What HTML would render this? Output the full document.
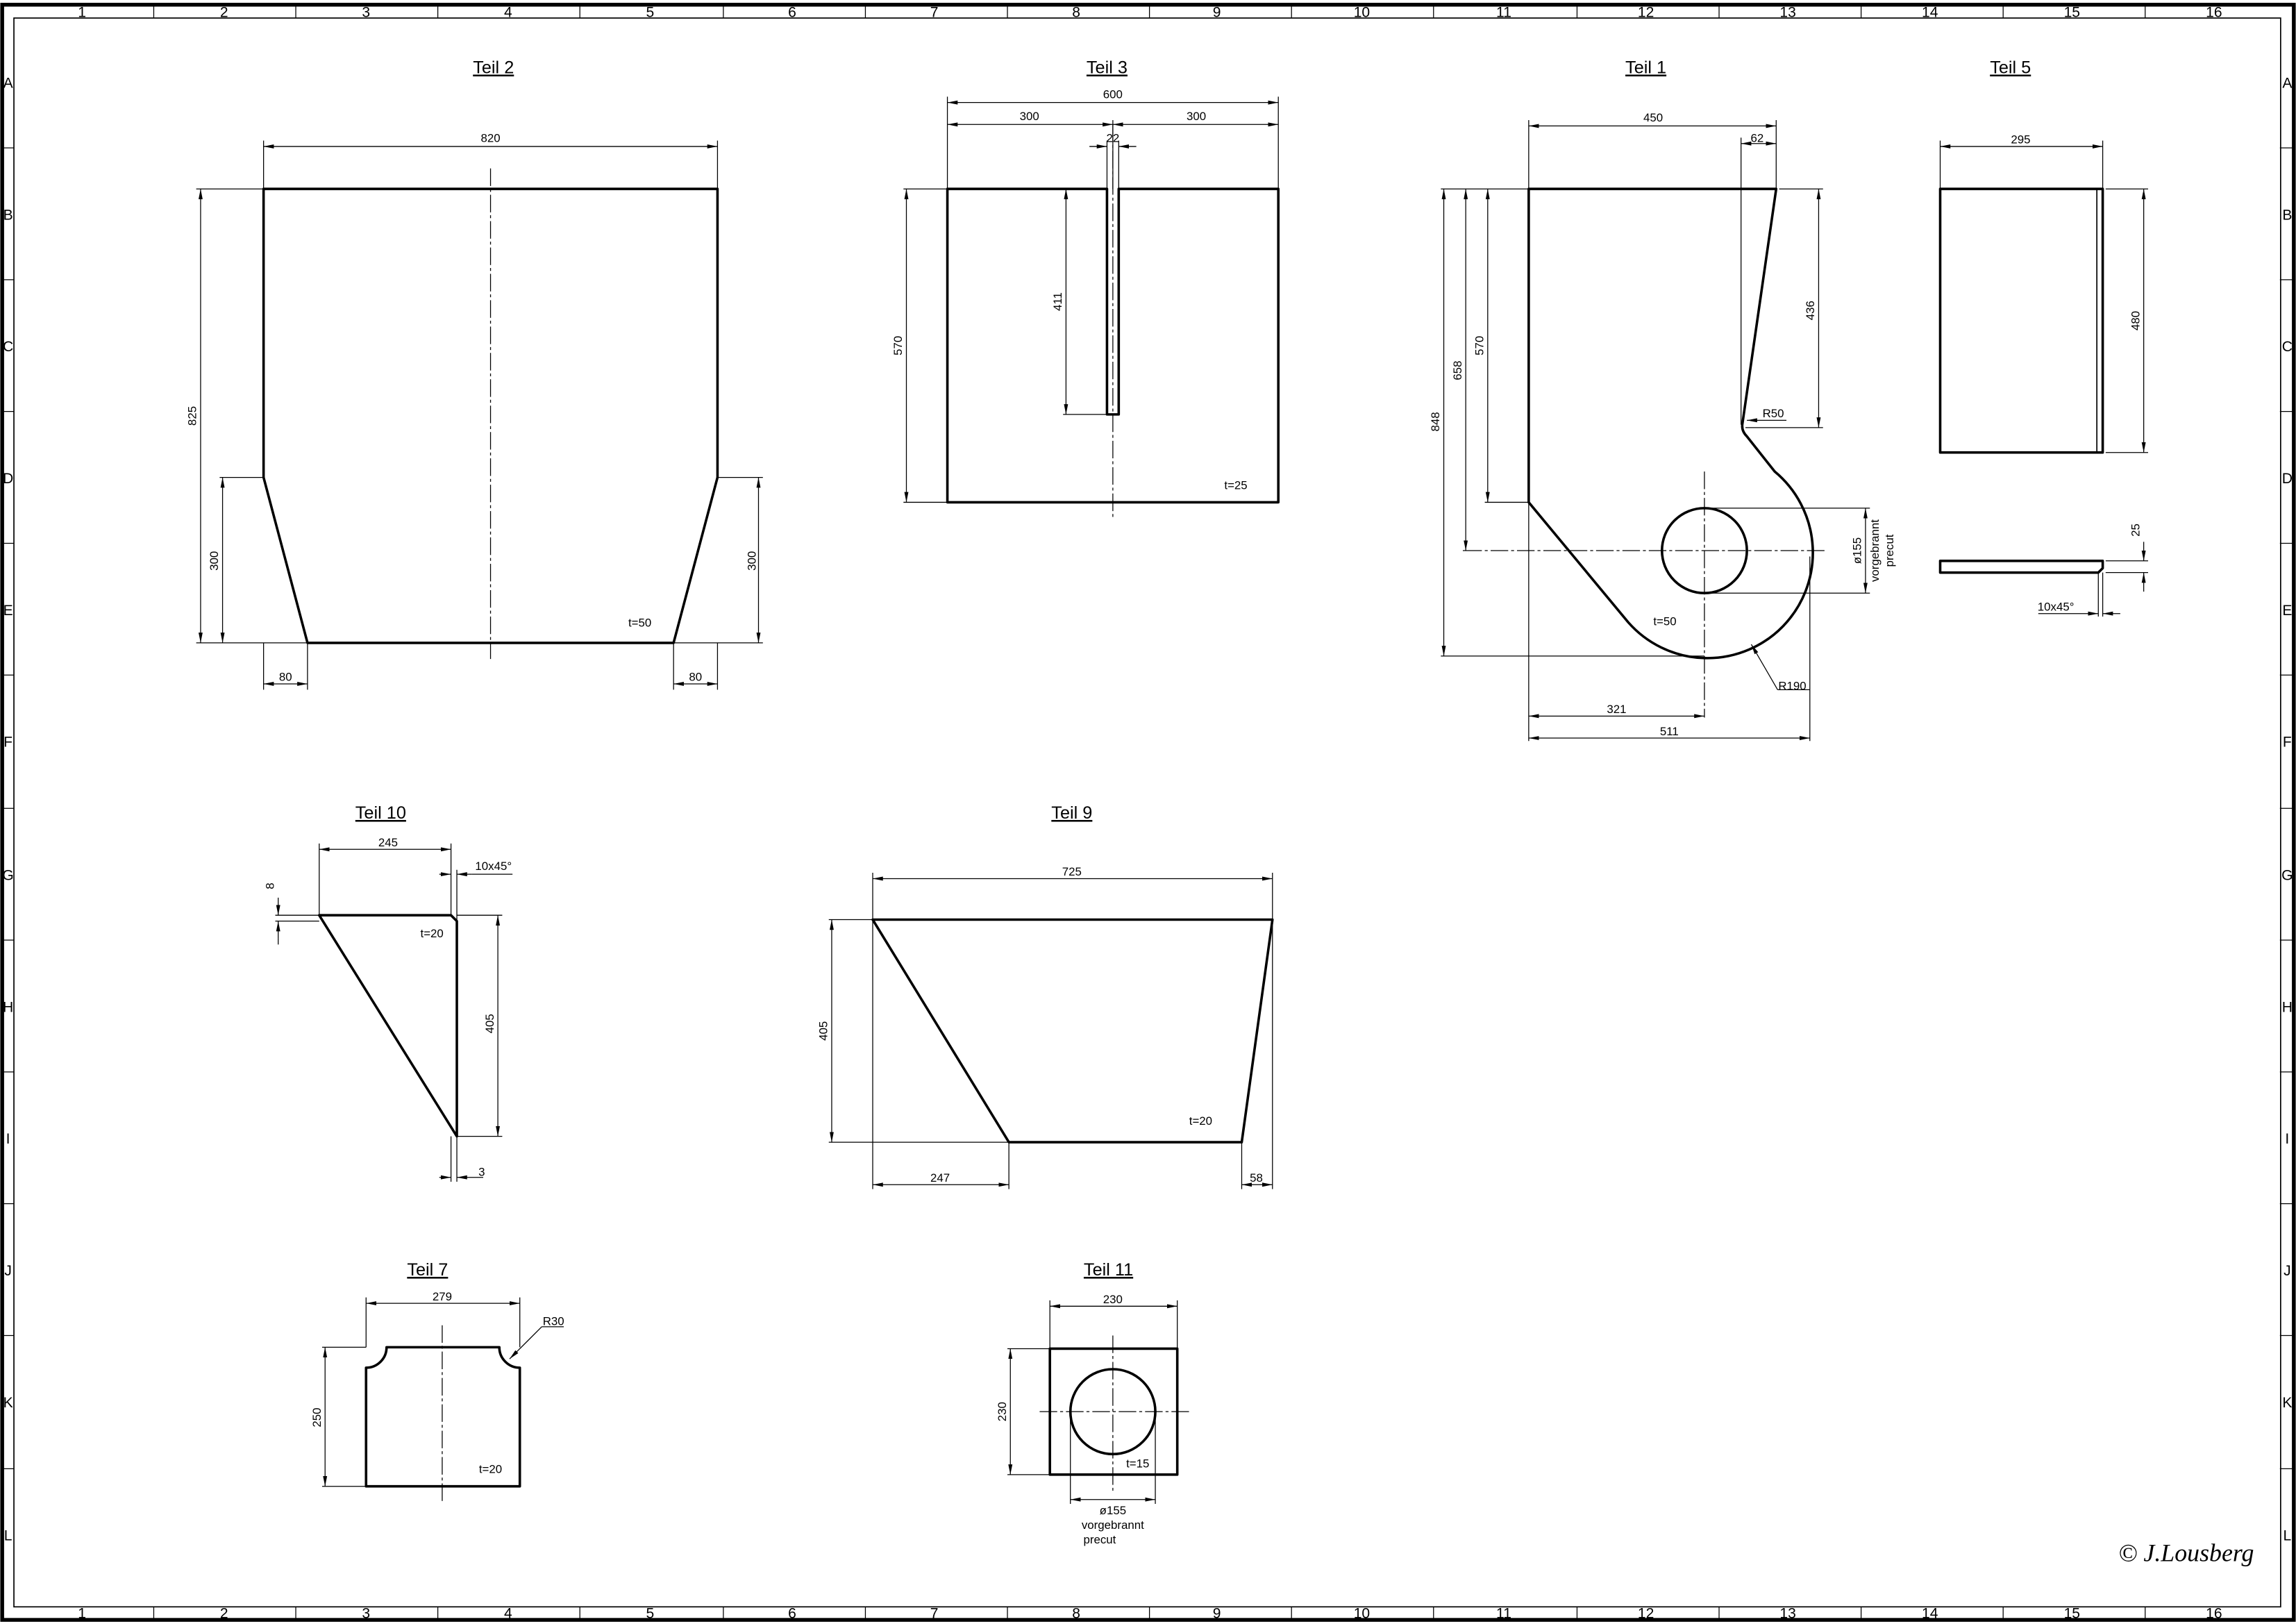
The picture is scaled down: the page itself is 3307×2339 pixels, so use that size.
<!DOCTYPE html>
<html><head><meta charset="utf-8"><style>
html,body{margin:0;padding:0;background:#fff}
svg{display:block}
text{font-family:"Liberation Sans",sans-serif;fill:#000}
.d{font-size:8px;text-anchor:middle}
.t{font-size:12px;text-anchor:middle;text-decoration:underline}
.f{font-size:10px;text-anchor:middle}
</style></head><body>
<svg width="3307" height="2339" viewBox="0 0 1568 1109" xmlns="http://www.w3.org/2000/svg">
<defs>
<marker id="a" markerUnits="userSpaceOnUse" markerWidth="8" markerHeight="4" refX="7" refY="2" orient="auto-start-reverse" viewBox="0 0 8 4"><path d="M0,0.6 L7,2 L0,3.4 Z" fill="#000"/></marker>
</defs>
<g fill="none" stroke="#000">
<!-- frame -->
<rect x="1.5" y="3.2" width="1565" height="1103" stroke-width="2.6"/>
<rect x="9.5" y="12.3" width="1548" height="1085" stroke-width="0.8"/>
</g>
<g stroke="#000" stroke-width="0.6">
<path d="M105,3V12M202,3V12M299,3V12M396,3V12M494,3V12M591,3V12M688,3V12M785,3V12M882,3V12M979,3V12M1077,3V12M1174,3V12M1271,3V12M1368,3V12M1465,3V12
M105,1097V1106M202,1097V1106M299,1097V1106M396,1097V1106M494,1097V1106M591,1097V1106M688,1097V1106M785,1097V1106M882,1097V1106M979,1097V1106M1077,1097V1106M1174,1097V1106M1271,1097V1106M1368,1097V1106M1465,1097V1106
M2,101H9.5M2,191H9.5M2,281H9.5M2,371H9.5M2,461H9.5M2,552H9.5M2,642H9.5M2,732H9.5M2,822H9.5M2,912H9.5M2,1003H9.5
M1557,101H1566M1557,191H1566M1557,281H1566M1557,371H1566M1557,461H1566M1557,552H1566M1557,642H1566M1557,732H1566M1557,822H1566M1557,912H1566M1557,1003H1566"/>
</g>
<g class="f">
<text class="f" x="56" y="11.5">1</text><text class="f" x="153" y="11.5">2</text><text class="f" x="250" y="11.5">3</text><text class="f" x="347" y="11.5">4</text><text class="f" x="444" y="11.5">5</text><text class="f" x="541" y="11.5">6</text><text class="f" x="638" y="11.5">7</text><text class="f" x="735" y="11.5">8</text><text class="f" x="831" y="11.5">9</text><text class="f" x="930" y="11.5">10</text><text class="f" x="1027" y="11.5">11</text><text class="f" x="1124" y="11.5">12</text><text class="f" x="1221" y="11.5">13</text><text class="f" x="1318" y="11.5">14</text><text class="f" x="1415" y="11.5">15</text><text class="f" x="1512" y="11.5">16</text>
<text class="f" x="56" y="1105">1</text><text class="f" x="153" y="1105">2</text><text class="f" x="250" y="1105">3</text><text class="f" x="347" y="1105">4</text><text class="f" x="444" y="1105">5</text><text class="f" x="541" y="1105">6</text><text class="f" x="638" y="1105">7</text><text class="f" x="735" y="1105">8</text><text class="f" x="831" y="1105">9</text><text class="f" x="930" y="1105">10</text><text class="f" x="1027" y="1105">11</text><text class="f" x="1124" y="1105">12</text><text class="f" x="1221" y="1105">13</text><text class="f" x="1318" y="1105">14</text><text class="f" x="1415" y="1105">15</text><text class="f" x="1512" y="1105">16</text>
</g>
<g class="f" font-size="9">
<text class="f" x="5.5" y="60">A</text><text class="f" x="5.5" y="150">B</text><text class="f" x="5.5" y="240">C</text><text class="f" x="5.5" y="330">D</text><text class="f" x="5.5" y="420">E</text><text class="f" x="5.5" y="510">F</text><text class="f" x="5.5" y="601">G</text><text class="f" x="5.5" y="691">H</text><text class="f" x="5.5" y="781">I</text><text class="f" x="5.5" y="871">J</text><text class="f" x="5.5" y="961">K</text><text class="f" x="5.5" y="1052">L</text>
<text class="f" x="1562" y="60">A</text><text class="f" x="1562" y="150">B</text><text class="f" x="1562" y="240">C</text><text class="f" x="1562" y="330">D</text><text class="f" x="1562" y="420">E</text><text class="f" x="1562" y="510">F</text><text class="f" x="1562" y="601">G</text><text class="f" x="1562" y="691">H</text><text class="f" x="1562" y="781">I</text><text class="f" x="1562" y="871">J</text><text class="f" x="1562" y="961">K</text><text class="f" x="1562" y="1052">L</text>
</g>

<!-- titles -->
<text class="t" x="337" y="50">Teil 2</text>
<text class="t" x="756" y="50">Teil 3</text>
<text class="t" x="1124" y="50">Teil 1</text>
<text class="t" x="1373" y="50">Teil 5</text>
<text class="t" x="260" y="559">Teil 10</text>
<text class="t" x="732" y="559">Teil 9</text>
<text class="t" x="292" y="871">Teil 7</text>
<text class="t" x="757" y="871">Teil 11</text>

<!-- outlines -->
<g fill="none" stroke="#000" stroke-width="1.7" stroke-linejoin="round">
<path d="M180,129H490V326L460,439H210L180,326Z"/>
<path d="M647,129H756V283H764V129H873V343H647Z"/>
<path d="M1044,129H1213L1190,289Q1189,294 1193,298L1212,322A72,72 0 1 1 1112,425L1044,343Z"/>
<circle cx="1164" cy="376" r="29"/>
<rect x="1325" y="129" width="111" height="180"/>
<path d="M1325,383H1436V388L1433,391H1325Z"/>
<path d="M218,625H308L312,629V776Z"/>
<path d="M596,628H869L848,780H689Z"/>
<path d="M250,1015V934A14,14 0 0 0 264,920H341A14,14 0 0 0 355,934V1015Z"/>
<rect x="717" y="921" width="87" height="86"/>
<circle cx="760" cy="964" r="29"/>
</g>
<line x1="1432" y1="129" x2="1432" y2="309" stroke="#000" stroke-width="0.8"/>

<!-- center lines -->
<g stroke="#000" stroke-width="0.6" stroke-dasharray="12,2,2,2" fill="none">
<path d="M335,115V450"/>
<path d="M760,85V355"/>
<path d="M1000,376H1248M1164,322V490"/>
<path d="M302,905V1025"/>
<path d="M710,964H812M760,912V1018"/>
</g>

<!-- extension lines -->
<g stroke="#000" stroke-width="0.6" fill="none">
<path d="M180,96V129M490,96V129M134,129H180M134,439H210M150,326H180M490,326H521M460,439H521M180,439V471M210,439V471M460,439V471M490,439V471"/>
<path d="M647,66V129M873,66V129M760,82V129M756,96V129M764,96V129M617,129H647M617,343H647M726,129H756M726,283H756"/>
<path d="M1044,82V129M1213,82V129M1189,94V290M984,129H1044M984,448H1164M999,376H1000M1014,343H1044M1215,129H1245M1192,292H1245M1164,347H1277M1164,405H1277M1044,343V506M1236,380V506"/>
<path d="M1325,96V129M1436,96V129M1438,129H1467M1438,309H1467M1438,383H1467M1438,391H1467M1433,391V421M1436,391V421"/>
<path d="M218,576V625M308,576V625M312,594V629M188,625H218M188,629H218M312,625H343M312,776H343M308,776V807M312,776V807"/>
<path d="M596,596V628M869,596V628M566,628H596M566,780H689M596,628V812M689,780V812M848,780V812M869,628V812"/>
<path d="M250,886V920M355,886V920M220,920H250M220,1015H250"/>
<path d="M717,888V921M804,888V921M688,921H717M688,1007H717M731,964V1027M789,964V1027"/>
</g>

<!-- dimension lines with arrows -->
<g stroke="#000" stroke-width="0.6" fill="none" marker-start="url(#a)" marker-end="url(#a)">
<path d="M180,100H490"/><path d="M137,129V439"/><path d="M152,326V439"/><path d="M518,326V439"/><path d="M180,467H210"/><path d="M460,467H490"/>
<path d="M647,70H873"/><path d="M647,85H760"/><path d="M760,85H873"/><path d="M619,129V343"/><path d="M728,129V283"/>
<path d="M1044,86H1213"/><path d="M1189,98H1213"/><path d="M986,129V448"/><path d="M1001,129V376"/><path d="M1016,129V343"/><path d="M1242,129V292"/><path d="M1274,347V405"/><path d="M1044,489H1164"/><path d="M1044,504H1236"/>
<path d="M1325,100H1436"/><path d="M1464,129V309"/>
<path d="M218,580H308"/><path d="M340,625V776"/>
<path d="M596,600H869"/><path d="M568,628V780"/><path d="M596,809H689"/><path d="M848,809H869"/>
<path d="M250,890H355"/><path d="M222,920V1015"/>
<path d="M717,892H804"/><path d="M690,921V1007"/><path d="M731,1024H789"/>
</g>
<!-- outside arrows for small dims -->
<g stroke="#000" stroke-width="0.6" fill="none" marker-end="url(#a)">
<path d="M744,100H756"/><path d="M776,100H764"/>
<path d="M1464,370V383"/><path d="M1464,404V391"/>
<path d="M1448,419H1436"/><path d="M1392,419H1433"/>
<path d="M300,597H308"/><path d="M322,597H312"/>
<path d="M190,613V625"/><path d="M190,641V629"/>
<path d="M300,804H308"/><path d="M330,804H312"/>
<path d="M1220,287H1193"/><path d="M1214,471L1196,440"/><path d="M370,906L348,928"/>
</g>
<g stroke="#000" stroke-width="0.6"><path d="M322,597H350M190,641V645M1214,471H1236M370,906H385"/></g>

<!-- dimension text -->
<g class="d">
<text class="d" x="335" y="97">820</text>
<text class="d" transform="translate(134,284) rotate(-90)">825</text>
<text class="d" transform="translate(149,383) rotate(-90)">300</text>
<text class="d" transform="translate(516,383) rotate(-90)">300</text>
<text class="d" x="195" y="465">80</text><text class="d" x="475" y="465">80</text>
<text class="d" x="437" y="428">t=50</text>

<text class="d" x="760" y="67">600</text>
<text class="d" x="703" y="82">300</text><text class="d" x="817" y="82">300</text>
<text class="d" x="760" y="97">22</text>
<text class="d" transform="translate(616,236) rotate(-90)">570</text>
<text class="d" transform="translate(725,206) rotate(-90)">411</text>
<text class="d" x="844" y="334">t=25</text>

<text class="d" x="1129" y="83">450</text>
<text class="d" x="1200" y="97">62</text>
<text class="d" transform="translate(983,288) rotate(-90)">848</text>
<text class="d" transform="translate(998,253) rotate(-90)">658</text>
<text class="d" transform="translate(1013,236) rotate(-90)">570</text>
<text class="d" transform="translate(1239,212) rotate(-90)">436</text>
<text class="d" x="1211" y="285">R50</text>
<text class="d" transform="translate(1271,376) rotate(-90)">ø155</text>
<text class="d" transform="translate(1283,376) rotate(-90)">vorgebrannt</text>
<text class="d" transform="translate(1293,376) rotate(-90)">precut</text>
<text class="d" x="1137" y="427">t=50</text>
<text class="d" x="1224" y="471">R190</text>
<text class="d" x="1104" y="487">321</text>
<text class="d" x="1140" y="502">511</text>

<text class="d" x="1380" y="98">295</text>
<text class="d" transform="translate(1461,219) rotate(-90)">480</text>
<text class="d" transform="translate(1461,362) rotate(-90)">25</text>
<text class="d" x="1404" y="417">10x45°</text>

<text class="d" x="265" y="578">245</text>
<text class="d" x="337" y="594">10x45°</text>
<text class="d" transform="translate(187,605) rotate(-90)">8</text>
<text class="d" transform="translate(337,699) rotate(-90)">405</text>
<text class="d" x="329" y="803">3</text>
<text class="d" x="295" y="640">t=20</text>

<text class="d" x="732" y="598">725</text>
<text class="d" transform="translate(565,704) rotate(-90)">405</text>
<text class="d" x="642" y="807">247</text>
<text class="d" x="858" y="807">58</text>
<text class="d" x="820" y="768">t=20</text>

<text class="d" x="302" y="888">279</text>
<text class="d" transform="translate(219,968) rotate(-90)">250</text>
<text class="d" x="378" y="905">R30</text>
<text class="d" x="335" y="1006">t=20</text>

<text class="d" x="760" y="890">230</text>
<text class="d" transform="translate(687,964) rotate(-90)">230</text>
<text class="d" x="777" y="1002">t=15</text>
<text class="d" x="760" y="1034">ø155</text>
<text class="d" x="760" y="1044">vorgebrannt</text>
<text class="d" x="751" y="1054">precut</text>
</g>
<text x="1493" y="1066" font-size="17" font-style="italic" text-anchor="middle" style="font-family:'Liberation Serif',serif">© J.Lousberg</text>
</svg>
</body></html>
